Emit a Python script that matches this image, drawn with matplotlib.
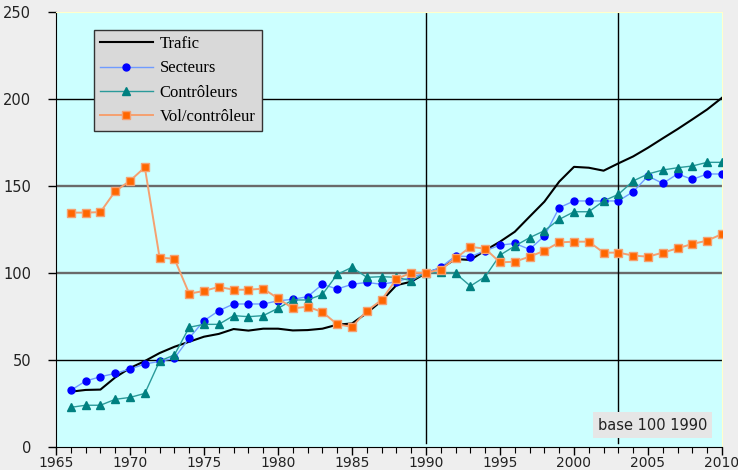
import matplotlib

matplotlib.use("Agg")
import matplotlib.pyplot as plt
import numpy as np

years = list(range(1966, 2011))

trafic = [31.8, 32.8, 33.0, 40.0, 45.4, 49.4, 54.0, 57.6, 60.5, 63.4,
          65.0, 67.8, 66.9, 68.0, 68.0, 67.0, 67.2, 68.0, 70.3, 71.0,
          77.0, 84.0, 93.0, 95.0, 100.0, 102.7, 108.0, 107.5, 113.0, 118.0,
          123.7, 132.4, 141.0, 152.5, 161.0, 160.5, 158.8, 163.0, 167.0, 172.0,
          177.4, 182.7, 188.3, 194.0, 200.7]

secteurs = [32.6, 37.9, 40.4, 42.3, 44.8, 47.7, 49.2, 51.0, 62.6, 72.6,
            78.3, 82.2, 82.2, 82.2, 84.0, 84.9, 86.4, 93.5, 90.8, 93.5,
            94.6, 93.5, 95.0, 97.5, 100.0, 103.3, 109.8, 109.4, 112.8, 116.0,
            117.0, 113.6, 121.3, 137.5, 141.4, 141.4, 141.4, 141.4, 146.7, 155.7,
            151.5, 156.9, 153.8, 156.9, 156.9]

controleurs = [22.8, 24.0, 24.0, 27.4, 28.5, 30.8, 49.4, 52.9, 68.8, 70.5,
               70.5, 75.5, 74.9, 75.5, 79.7, 84.5, 84.5, 87.7, 99.2, 103.3,
               97.5, 97.9, 97.5, 95.6, 100.0, 100.4, 99.8, 92.5, 97.9, 110.3,
               115.5, 120.3, 124.3, 130.8, 135.2, 135.2, 141.4, 145.2, 152.9, 156.9,
               159.2, 160.5, 161.5, 163.6, 163.6]

vol_controleur = [134.7, 134.7, 135.0, 147.0, 153.0, 160.7, 108.8, 108.2, 88.1, 89.7,
                  92.0, 90.4, 90.4, 91.0, 85.4, 79.7, 80.6, 77.6, 70.5, 69.1,
                  78.2, 84.5, 96.5, 100.2, 100.0, 102.0, 108.4, 115.0, 114.0, 106.1,
                  106.5, 109.4, 112.8, 117.6, 118.0, 118.0, 111.7, 111.7, 110.0, 109.4,
                  111.7, 114.2, 116.7, 118.6, 122.4]

x_ticks = list(range(1965, 2011, 5))
y_ticks = [0, 50, 100, 150, 200, 250]
marker_lines = [1990, 2003]

fig = plt.figure(figsize=(7.38, 4.70), dpi=100, facecolor="#EEEEEE")
ax = fig.add_axes([0.0759, 0.0489, 0.9024, 0.9256])
ax.set_facecolor("#CCFFFF")

# horizontal reference lines: 100 and 150 drawn grey/thicker like the source
for v, col, lw in [(50, "black", 1.0), (100, "#6a6a6a", 1.7),
                   (150, "#6a6a6a", 1.7), (200, "black", 1.0)]:
    ax.axhline(v, color=col, lw=lw, zorder=1)
for yr in marker_lines:
    ax.axvline(yr, ymin=0.01, color="black", lw=1.0, zorder=1)

ax.plot(years, trafic, color="black", lw=1.5, label="Trafic", zorder=3)
ax.plot(years, secteurs, color="#6f9bff", lw=1.0, marker="o", ms=5,
        mfc="#0000FF", mec="#0000FF", label="Secteurs", zorder=4)
ax.plot(years, controleurs, color="#2a9a9a", lw=1.0, marker="^", ms=6,
        mfc="#008080", mec="#008080", label="Contrôleurs", zorder=4)
ax.plot(years, vol_controleur, color="#f5a070", lw=1.4, marker="s", ms=5.5,
        mfc="#FF6600", mec="#f5a070", label="Vol/contrôleur", zorder=5)

ax.set_xlim(1965, 2010)
ax.set_ylim(0, 250)
ax.set_xticks(x_ticks)
ax.set_xticks(range(1965, 2011), minor=True)
ax.set_yticks(y_ticks)
ax.tick_params(axis="both", which="major", length=6, width=1, labelsize=10,
               color="black", labelcolor="#222222")
ax.tick_params(axis="x", which="major", pad=0.5)
ax.tick_params(axis="y", which="major", labelsize=10.5, pad=12)
ax.tick_params(axis="x", which="minor", length=4, width=0.8)
for s in ["left", "bottom"]:
    ax.spines[s].set_color("black")
for s in ["top", "right"]:
    ax.spines[s].set_color("#FFFFCC")

leg = ax.legend(loc="upper left", bbox_to_anchor=(0.057, 0.958), borderaxespad=0,
                frameon=True, fancybox=False, edgecolor="#333333",
                facecolor="#D9D9D9", framealpha=1,
                prop={"family": "Liberation Serif", "size": 12},
                handlelength=3.2, labelspacing=0.5, borderpad=0.35,
                handletextpad=0.4)
leg.get_frame().set_linewidth(1.0)
leg.set_zorder(10)

ax.text(2005.3, 12.6, "base 100 1990", ha="center", va="center", fontsize=10.5,
        color="#222222", zorder=10,
        bbox=dict(boxstyle="square,pad=0.35", fc="#E6E6E6", ec="none"))

fig.savefig("out.png", dpi=100, facecolor=fig.get_facecolor())
